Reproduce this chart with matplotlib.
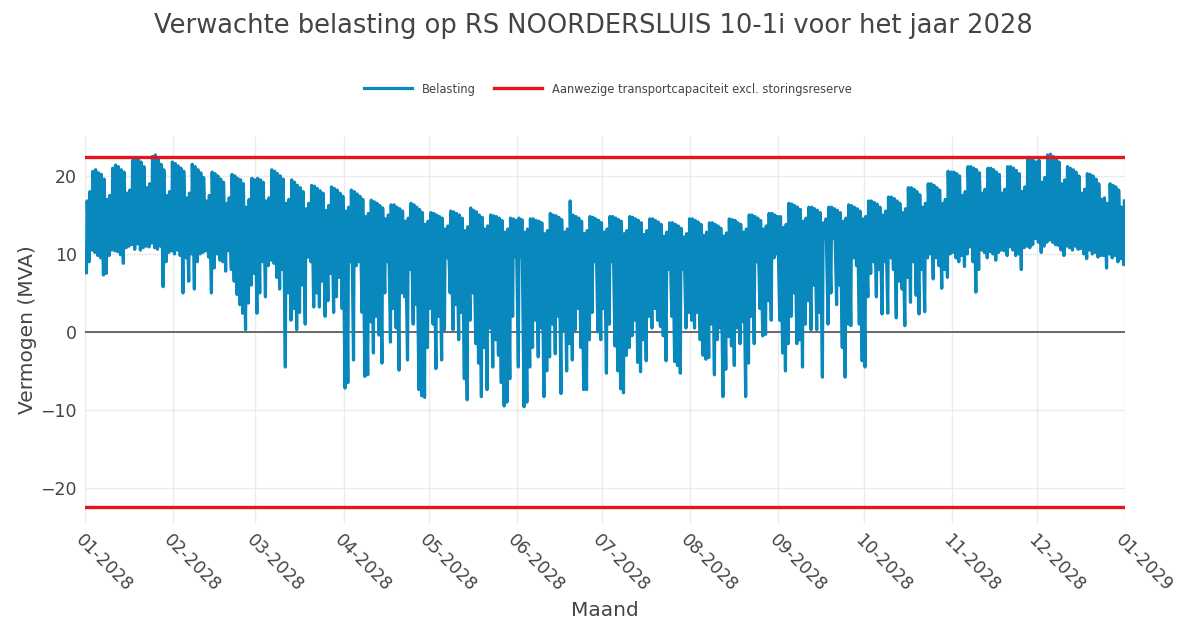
import numpy as np
import pandas as pd
import matplotlib
matplotlib.use("Agg")
import matplotlib.pyplot as plt
import matplotlib.dates as mdates

# Daily peak (evening) and daily low (midday) load in MVA, per month of 2028
max_jan = [16.8, 18.0, 20.6, 20.8, 20.4, 20.2, 19.6, 17.0, 17.5, 21.0, 21.4, 21.2, 20.8, 20.5, 17.8, 18.2,
           22.0, 22.3, 22.1, 21.8, 21.2, 18.5, 19.0, 22.5, 22.7, 22.2, 21.5, 20.8, 17.5, 18.0, 21.8]
min_jan = [7.6, 9.0, 10.5, 10.2, 9.8, 9.5, 7.3, 7.5, 9.8, 10.5, 10.4, 10.3, 9.9, 8.8, 10.8, 11.0,
           11.2, 10.6, 11.3, 10.5, 10.8, 11.0, 10.9, 11.4, 10.8, 10.6, 11.0, 5.8, 9.0, 10.2, 10.4]
max_feb = [21.6, 21.3, 21.0, 20.6, 17.2, 17.8, 21.5, 21.2, 20.8, 20.4, 19.8, 16.8, 17.5, 20.5, 20.3,
           20.0, 19.6, 19.2, 16.5, 17.2, 20.2, 20.0, 19.7, 19.5, 19.0, 16.0, 17.0, 19.7, 19.5]
min_feb = [10.0, 10.5, 9.8, 5.0, 9.5, 6.5, 10.0, 5.5, 9.0, 10.0, 10.2, 10.4, 9.6, 5.0, 8.2,
           10.0, 9.2, 9.0, 7.8, 10.4, 8.0, 6.5, 4.8, 3.5, 2.4, 0.3, 3.7, 6.0, 7.5]
max_mar = [19.7, 19.5, 19.2, 16.8, 17.2, 20.8, 20.6, 20.3, 20.0, 19.6, 16.5, 17.0, 19.5, 19.2, 18.8, 18.5,
           18.0, 15.8, 16.5, 18.8, 18.7, 18.4, 18.1, 17.8, 15.6, 16.2, 18.6, 18.4, 18.2, 17.8, 17.4]
min_mar = [2.4, 5.0, 9.0, 4.5, 8.5, 9.2, 8.8, 7.0, 5.5, 8.0, -4.5, 5.0, 1.5, 3.0, 0.3, 2.5,
           6.0, 1.0, 9.6, 9.0, 3.2, 5.0, 3.2, 6.5, 2.0, 4.0, 7.5, 2.5, 4.5, 7.0, 3.0]
max_apr = [15.5, 16.0, 18.2, 18.0, 17.7, 17.4, 17.0, 14.8, 15.2, 16.9, 16.7, 16.5, 16.2, 15.9, 14.5,
           15.0, 16.3, 16.3, 16.0, 15.8, 15.5, 14.2, 14.6, 16.5, 16.3, 16.0, 15.7, 15.3, 13.8, 14.2]
min_apr = [-7.2, -6.5, 9.0, -3.6, 8.5, 9.0, 2.5, -5.7, -5.5, 1.3, -2.7, 2.0, -0.4, -4.0, 5.0,
           9.0, -1.3, 3.0, 0.5, -4.9, 5.0, 4.5, -3.6, 8.0, 1.0, 3.5, -7.4, -8.2, -8.4, -2.0]
max_may = [15.3, 15.2, 15.0, 14.8, 14.6, 13.2, 13.6, 15.5, 15.4, 15.2, 15.0, 14.6, 13.0, 13.5, 15.9, 15.6,
           15.4, 15.0, 14.7, 13.2, 13.6, 15.0, 14.9, 14.8, 14.6, 14.3, 12.8, 13.2, 14.6, 14.5, 14.3]
min_may = [3.0, 1.0, -4.7, 2.0, -3.6, 0.3, 9.5, 5.0, 0.3, 3.5, -1.0, 2.5, -6.0, -8.7, 1.5, 5.0,
           -1.5, -4.0, -8.3, -2.0, -7.4, 0.5, -4.5, -1.0, -3.0, -6.5, -9.5, -9.0, -6.0, 2.0, 9.6]
max_jun = [14.6, 14.4, 12.8, 13.2, 14.5, 14.5, 14.3, 14.2, 14.0, 12.6, 13.0, 15.2, 15.0, 14.9, 14.7,
           14.4, 12.8, 13.2, 16.8, 15.0, 14.8, 14.6, 14.2, 12.6, 13.0, 14.8, 14.7, 14.5, 14.3, 14.0]
min_jun = [-4.5, 9.6, -9.6, -9.0, -4.5, -2.0, 1.5, -3.2, 0.5, -8.3, -5.0, -3.2, 1.0, -2.8, 2.0,
           -7.9, 0.3, -5.0, -1.5, -3.6, 0.3, 3.0, -2.0, -7.4, -7.4, -1.0, 2.5, 9.0, 0.0, -1.0]
max_jul = [12.8, 13.2, 14.8, 14.8, 14.6, 14.4, 14.2, 12.6, 13.0, 14.8, 14.7, 14.5, 14.3, 14.0, 12.5, 13.0,
           14.5, 14.5, 14.3, 14.1, 13.8, 12.3, 12.8, 14.0, 14.0, 13.8, 13.6, 13.3, 12.2, 12.6, 14.5]
min_jul = [3.0, -5.3, 1.0, 9.0, -1.8, -5.0, -7.3, -7.8, -3.0, -2.0, -0.5, 1.5, -3.9, -5.1, -1.0, -3.7,
           2.0, 0.5, 3.0, 1.5, 0.7, -0.5, -3.7, 8.0, 2.0, -3.8, -4.3, -5.3, 8.0, 0.5, 2.5]
max_aug = [14.5, 14.3, 14.1, 13.8, 12.4, 12.8, 14.0, 14.0, 13.8, 13.6, 13.3, 12.3, 12.7, 14.5, 14.4, 14.3,
           14.0, 13.8, 12.8, 13.2, 15.0, 15.0, 14.8, 14.6, 14.3, 13.2, 13.6, 15.2, 15.2, 15.0, 14.8]
min_aug = [1.5, 0.5, 2.5, -1.0, -3.0, -3.5, -3.3, 1.0, -5.5, -1.0, 0.5, -8.3, -4.8, -0.6, -1.8, -4.3,
           0.5, -1.5, 1.3, -8.3, -4.0, 2.0, -1.5, 9.0, 3.0, -0.5, -0.3, 4.0, 1.5, 9.5, 10.0]
max_sep = [14.8, 13.4, 13.8, 16.5, 16.4, 16.2, 16.0, 15.7, 14.2, 14.6, 16.0, 16.0, 15.8, 15.6, 15.3,
           14.0, 14.5, 16.0, 16.0, 15.8, 15.6, 15.3, 14.2, 14.6, 16.3, 16.2, 16.0, 15.8, 15.5, 14.5]
min_sep = [1.5, -2.7, -5.0, -1.5, 2.0, 5.0, -1.5, -1.0, -4.5, 1.0, 4.0, 0.3, 6.0, 0.3, 2.5,
           -5.8, 12.0, 1.0, 5.0, 12.0, 3.5, 6.0, -2.0, -5.8, 1.0, 0.8, 9.5, 8.5, 1.0, -3.7]
max_oct = [14.8, 16.8, 16.8, 16.6, 16.4, 16.0, 15.0, 15.5, 17.3, 17.3, 17.1, 16.8, 16.5, 15.3, 15.8, 18.5,
           18.5, 18.3, 18.0, 17.6, 16.0, 16.5, 19.0, 19.0, 18.8, 18.5, 18.2, 16.5, 17.0, 20.6, 20.5]
min_oct = [-4.5, 4.5, 7.5, 9.0, 4.5, 8.0, 2.3, 9.0, 2.4, 9.5, 8.0, 1.8, 6.5, 5.5, 0.8, 7.0,
           3.8, 9.0, 4.7, 2.3, 8.0, 2.6, 9.5, 10.0, 6.8, 9.5, 8.5, 5.6, 8.0, 7.0, 10.0]
max_nov = [20.5, 20.3, 20.0, 17.5, 18.0, 21.2, 21.2, 21.0, 20.8, 20.4, 17.8, 18.3, 21.0, 21.0, 20.8,
           20.5, 20.2, 17.8, 18.3, 21.2, 21.2, 21.0, 20.7, 20.3, 18.0, 18.6, 22.4, 22.2, 22.0, 21.8]
min_nov = [10.2, 9.5, 9.0, 9.8, 8.4, 10.0, 10.9, 9.0, 5.1, 8.0, 10.5, 10.2, 9.5, 10.3, 10.0,
           9.2, 10.2, 10.5, 10.4, 9.8, 10.9, 10.5, 9.8, 10.0, 8.0, 10.8, 11.0, 10.8, 11.2, 12.0]
max_dec = [22.0, 19.2, 19.8, 22.7, 22.8, 22.5, 22.2, 21.8, 19.0, 19.5, 21.2, 21.0, 20.8, 20.5, 20.0, 17.8,
           18.3, 20.3, 20.2, 20.0, 19.6, 19.0, 17.0, 17.2, 16.5, 19.0, 18.8, 18.6, 18.2, 16.0, 16.8]
min_dec = [11.5, 10.2, 11.0, 11.5, 11.8, 11.5, 11.2, 11.1, 10.5, 9.8, 11.0, 10.8, 10.5, 11.0, 10.6, 10.7,
           10.0, 9.4, 10.5, 10.0, 10.2, 9.6, 9.8, 9.8, 8.2, 10.0, 9.5, 9.8, 9.0, 9.4, 8.6]

capaciteit = 22.4  # MVA, both directions

title = "Verwachte belasting op RS NOORDERSLUIS 10-1i voor het jaar 2028"
legend_labels = ["Belasting", "Aanwezige transportcapaciteit excl. storingsreserve"]

daily_max = np.array(max_jan + max_feb + max_mar + max_apr + max_may + max_jun
                     + max_jul + max_aug + max_sep + max_oct + max_nov + max_dec)
daily_min = np.array(min_jan + min_feb + min_mar + min_apr + min_may + min_jun
                     + min_jul + min_aug + min_sep + min_oct + min_nov + min_dec)

days = pd.date_range("2028-01-01", periods=len(daily_max), freq="D")
# midday low, evening peak
t = np.empty(2 * len(days), dtype="datetime64[ns]")
t[0::2] = (days + pd.Timedelta(hours=12)).values
t[1::2] = (days + pd.Timedelta(hours=18)).values
v = np.empty(2 * len(days))
v[0::2] = daily_min
v[1::2] = daily_max

blue = "#0888bd"
red = "#e3171b"
grey = "#444444"

fig = plt.figure(figsize=(11.87, 6.27), dpi=100)
ax = fig.add_axes([0.0716, 0.1659, 0.8762, 0.6156])

x0, x1 = pd.Timestamp("2028-01-01"), pd.Timestamp("2029-01-01")
ax.plot(t, v, color=blue, lw=2.3, label=legend_labels[0], zorder=3)
ax.plot([x0, x1], [capaciteit, capaciteit], color=red, lw=2.4, label=legend_labels[1], zorder=4)
ax.plot([x0, x1], [-capaciteit, -capaciteit], color=red, lw=2.4, zorder=4)
ax.axhline(0, color="#444444", lw=1.1, zorder=2)

ax.set_xlim(x0, x1)
ax.set_ylim(-24.5, 25)
ax.set_yticks([-20, -10, 0, 10, 20])
ax.xaxis.set_major_locator(mdates.MonthLocator())
ax.xaxis.set_major_formatter(mdates.DateFormatter("%m-%Y"))
ax.grid(True, color="#ebebeb", lw=1.0, zorder=0)
for s in ax.spines.values():
    s.set_visible(False)
ax.tick_params(length=0, labelsize=12.5, colors=grey, pad=6)
for lbl in ax.get_xticklabels():
    lbl.set_rotation(-45)
    lbl.set_ha("left")
    lbl.set_va("top")
    lbl.set_rotation_mode("anchor")

ax.set_ylabel("Vermogen (MVA)", fontsize=14.5, color=grey, labelpad=2)
ax.set_xlabel("Maand", fontsize=14.5, color=grey, labelpad=4)

fig.suptitle(title, fontsize=18.5, color=grey, y=0.98)
fig.legend(loc="center", bbox_to_anchor=(0.512, 0.858), ncol=2, frameon=False,
           fontsize=8.3, handlelength=4.2, columnspacing=1.6, labelcolor=grey)

fig.savefig("out.png", dpi=100, facecolor="white")
